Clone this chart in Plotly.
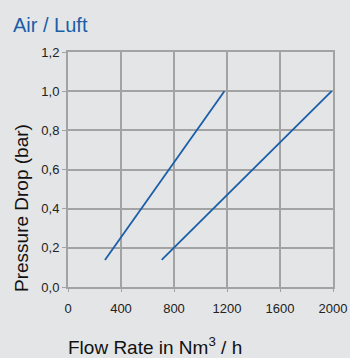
import plotly.graph_objects as go

# Data
flow_a = [279, 1180]
drop_a = [0.138, 1.0]
flow_b = [707, 1990]
drop_b = [0.138, 1.0]
x_ticks = [0, 400, 800, 1200, 1600, 2000]
y_ticks = [0.0, 0.2, 0.4, 0.6, 0.8, 1.0, 1.2]

line_color = "#1a5ea8"
grid_color = "#a3a3a3"
font_fam = "Liberation Sans, Arial, sans-serif"

fig = go.Figure()
for xs, ys in [(flow_a, drop_a), (flow_b, drop_b)]:
    fig.add_trace(go.Scatter(x=xs, y=ys, mode="lines",
                             line=dict(color=line_color, width=1.8),
                             showlegend=False, hoverinfo="skip"))

fig.update_layout(
    width=350, height=358,
    margin=dict(l=68, r=17, t=52, b=71, autoexpand=False),
    paper_bgcolor="#e4e5e7", plot_bgcolor="#e4e5e7",
    separators=",.",
    font=dict(family=font_fam, color="#222222", size=13),
)
fig.update_xaxes(range=[0, 2000], tickvals=x_ticks, showgrid=True, gridcolor=grid_color,
                 gridwidth=2, showline=True, linecolor=grid_color, linewidth=2, mirror=True,
                 ticks="outside", ticklen=3, tickcolor=grid_color, tickwidth=1, automargin=False,
                 ticklabelstandoff=5,
                 zeroline=False, tickfont=dict(size=13, color="#222222"))
fig.update_yaxes(range=[0, 1.2], tickvals=y_ticks, tickformat=".1f", showgrid=True,
                 gridcolor=grid_color, gridwidth=2, showline=True, linecolor=grid_color,
                 linewidth=2, mirror=True, ticks="outside", ticklen=4, tickcolor=grid_color,
                 tickwidth=1, zeroline=False, automargin=False,
                 tickfont=dict(size=13, color="#222222"))

fig.add_annotation(text="Air / Luft", xref="paper", yref="paper", x=-57/265, y=1 + (52-25)/235,
                   xanchor="left", yanchor="middle", showarrow=False,
                   font=dict(family=font_fam, size=20, color=line_color))
fig.add_annotation(text="Pressure Drop (bar)", xref="paper", yref="paper", x=-47/265, y=(287-208)/235,
                   xanchor="center", yanchor="middle", textangle=-90, showarrow=False,
                   font=dict(family=font_fam, size=19, color="#111111"))
fig.add_annotation(text="Flow Rate in Nm<sup>3</sup> / h", xref="paper", yref="paper",
                   x=(66-68)/265, y=-(346-287)/235, xanchor="left", yanchor="middle", showarrow=False,
                   font=dict(family=font_fam, size=19, color="#111111"))

fig.write_html("out.html", config={"displayModeBar": False},
               post_script="document.body.style.margin='0';")
